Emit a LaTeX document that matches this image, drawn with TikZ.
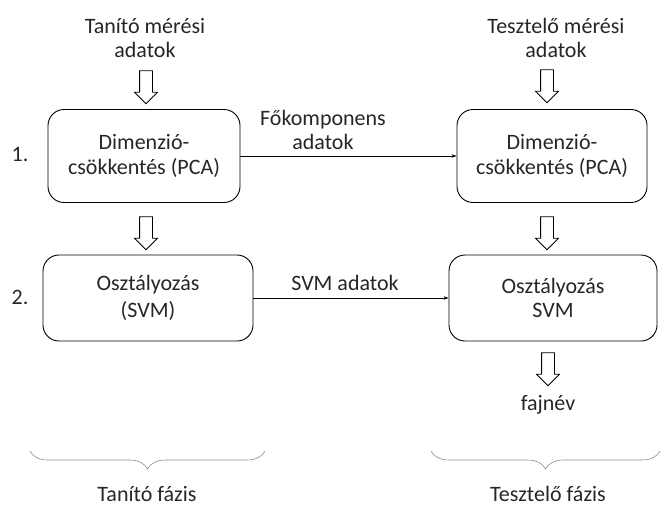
\documentclass[tikz,border=0pt]{standalone}
\usepackage{fontspec}
\setmainfont{Carlito}
\usetikzlibrary{arrows.meta,shapes.arrows,decorations.pathreplacing}

\begin{document}
\begin{tikzpicture}[x=1pt,y=-1pt,>={Stealth[length=5pt,width=3.5pt]},
        font=\fontsize{22}{24.5}\selectfont,text=black!85,
        every node/.style={align=center},
        box/.style={draw,rounded corners=16pt,line width=0.9pt,inner sep=0pt},
        hollow/.style={draw,single arrow,shape border rotate=270,minimum height=33pt,
                       minimum width=22pt,single arrow head extend=5pt,inner sep=6pt,line width=0.8pt},
        phase/.style={decorate,decoration={brace,amplitude=18pt},draw=black!45,line width=0.6pt}]
    \useasboundingbox (0,0) rectangle (661,506);
    % training side
    \node (in_1) at (145,38) {Tanító mérési\\adatok};
    \node[box,minimum width=192pt,minimum height=93pt] (pca_1) at (144,156) {Dimenzió-\\csökkentés (PCA)};
    \node[box,minimum width=210pt,minimum height=86pt] (svm_1) at (148,298) {Osztályozás\\[3pt](SVM)};
    \node[hollow] (a_1) at (146,84) {};
    \node[hollow] (a_2) at (146,230) {};
    \node (n_1) at (20,155) {1.};
    \node (n_2) at (20,297) {2.};
    % testing side
    \node (in_2) at (556,38) {Tesztelő mérési\\adatok};
    \node[box,minimum width=190pt,minimum height=93pt] (pca_2) at (552,156) {Dimenzió-\\csökkentés (PCA)};
    \node[box,minimum width=208pt,minimum height=86pt] (svm_2) at (553,298) {Osztályozás\\SVM};
    \node[hollow] (a_3) at (547,83) {};
    \node[hollow] (a_4) at (547,230) {};
    \node[hollow] (a_5) at (548,366) {};
    \node (out) at (548,405) {fajnév};
    % transfer between the phases
    \begin{scope}[line width=0.6pt]
        \draw[->] (pca_1) -- (pca_2);
        \draw[->] (svm_1) -- (svm_2);
    \end{scope}
    \node (l_1) at (323,130) {Főkomponens\\adatok};
    \node (l_2) at (345,283) {SVM adatok};
    % phases
    \coordinate (b_1) at (265,451);
    \coordinate (b_2) at (30,451);
    \coordinate (b_3) at (660,451);
    \coordinate (b_4) at (431,451);
    \draw[phase] (b_1) -- (b_2);
    \draw[phase] (b_3) -- (b_4);
    \node[anchor=base] (p_1) at (147,501) {Tanító fázis};
    \node[anchor=base] (p_2) at (548,501) {Tesztelő fázis};
\end{tikzpicture}
\end{document}
